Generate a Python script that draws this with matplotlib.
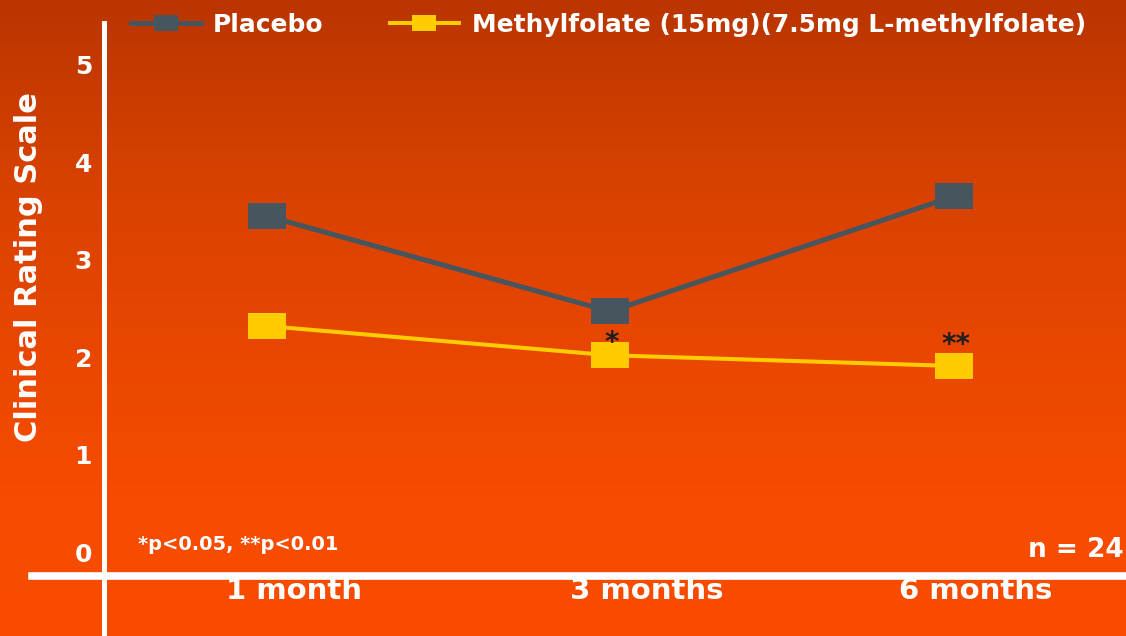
import numpy as np
import matplotlib
matplotlib.use("Agg")
import matplotlib.pyplot as plt
from matplotlib.colors import LinearSegmentedColormap
from matplotlib.path import Path
from matplotlib.transforms import ScaledTranslation

# ---------------- data ----------------
categories = ["1 month", "3 months", "6 months"]
placebo = [3.45, 2.47, 3.65]
methylfolate = [2.32, 2.02, 1.91]
series_names = ["Placebo", "Methylfolate (15mg)(7.5mg L-methylfolate)"]
yticks = [0, 1, 2, 3, 4, 5]
sig_labels = ["", "*", "**"]          # significance marks on methylfolate
footnote = "*p<0.05, **p<0.01"
n_note = "n = 24"
ylabel = "Clinical Rating Scale"

# ---------------- style ----------------
plt.rcParams["font.family"] = ["DejaVu Sans"]
plt.rcParams["font.weight"] = "bold"
plt.rcParams["axes.labelweight"] = "bold"
W, H = 1126, 636
fig = plt.figure(figsize=(W / 100, H / 100), dpi=100)

# gradient background
bg = fig.add_axes([0, 0, 1, 1])
cmap = LinearSegmentedColormap.from_list(
    "bg", [(0.0, "#ba3500"), (0.27, "#d64100"), (0.6, "#ec4800"),
           (0.78, "#f64b00"), (1.0, "#f94c00")])
grad = np.linspace(0, 1, 256).reshape(-1, 1)
bg.imshow(grad, cmap=cmap, aspect="auto", extent=[0, 1, 1, 0], interpolation="bicubic")
bg.set_axis_off()

ax = fig.add_axes([0, 0, 1, 1])
ax.patch.set_alpha(0)

x = np.arange(len(categories))
rect = Path([(-1, -0.68), (1, -0.68), (1, 0.68), (-1, 0.68), (-1, -0.68)],
            [Path.MOVETO, Path.LINETO, Path.LINETO, Path.LINETO, Path.CLOSEPOLY])

ax.plot(x, placebo, color="#46555e", lw=3.6, marker=rect, ms=27.4, mew=0,
        mfc="#46555e", label=series_names[0], zorder=3)
ax.plot(x, methylfolate, color="#ffcc00", lw=2.9, marker=rect, ms=27.4, mew=0,
        mfc="#ffcc00", label=series_names[1], zorder=3)

# significance stars
star_dy = [0, 4, 13]
for xi, yi, s, dy in zip(x, methylfolate, sig_labels, star_dy):
    if s:
        ax.annotate(s, (xi, yi), xytext=(2, dy), textcoords="offset pixels",
                    ha="center", va="baseline", fontsize=20, color="#1e1e1e")

# pixel-mapped limits
ax.set_xlim(-0.7758, 2.502)
ax.set_ylim(-0.862, 5.667)

for s in ["top", "right"]:
    ax.spines[s].set_visible(False)
ax.spines["left"].set_position(("data", -0.4716))
ax.spines["left"].set_bounds(-0.862, 5.43)
ax.spines["left"].set_linewidth(3.6)
ax.spines["left"].set_color("white")
ax.spines["bottom"].set_position(("data", -0.246))
ax.spines["bottom"].set_bounds(-0.683, 2.502)
ax.spines["bottom"].set_linewidth(5.5)
ax.spines["bottom"].set_color("white")

ax.set_yticks(yticks)
ax.set_yticklabels([str(v) for v in yticks])
ax.tick_params(axis="y", length=0, pad=9, labelsize=18, labelcolor="white")
ax.set_xticks(x)
ax.set_xticklabels(categories)
ax.tick_params(axis="x", length=0, pad=1, labelsize=21, labelcolor="white")
label_dx = [27, 37, 22]
for lbl, dx in zip(ax.get_xticklabels(), label_dx):
    lbl.set_transform(lbl.get_transform() + ScaledTranslation(dx / 100, 0, fig.dpi_scale_trans))

ax.set_ylabel(ylabel, fontsize=22, color="white", va="center", fontweight="bold")
ax.yaxis.set_label_coords(29 / W, 1 - 267 / H)

ax.text(138 / W, 1 - 545 / H, footnote, transform=ax.transAxes, fontsize=14,
        color="white", ha="left", va="center")
ax.text(1124 / W, 1 - 550 / H, n_note, transform=ax.transAxes, fontsize=19,
        color="white", ha="right", va="center")

leg = ax.legend(loc="center left", bbox_to_anchor=(131 / W, 1 - 25 / H),
                bbox_transform=fig.transFigure, ncol=2, frameon=False,
                handlelength=2.8, handletextpad=0.5, columnspacing=2.65,
                markerscale=0.63, borderpad=0, borderaxespad=0,
                prop={"weight": "bold", "size": 17.9}, labelcolor="white")

fig.savefig("out.png", dpi=100)
